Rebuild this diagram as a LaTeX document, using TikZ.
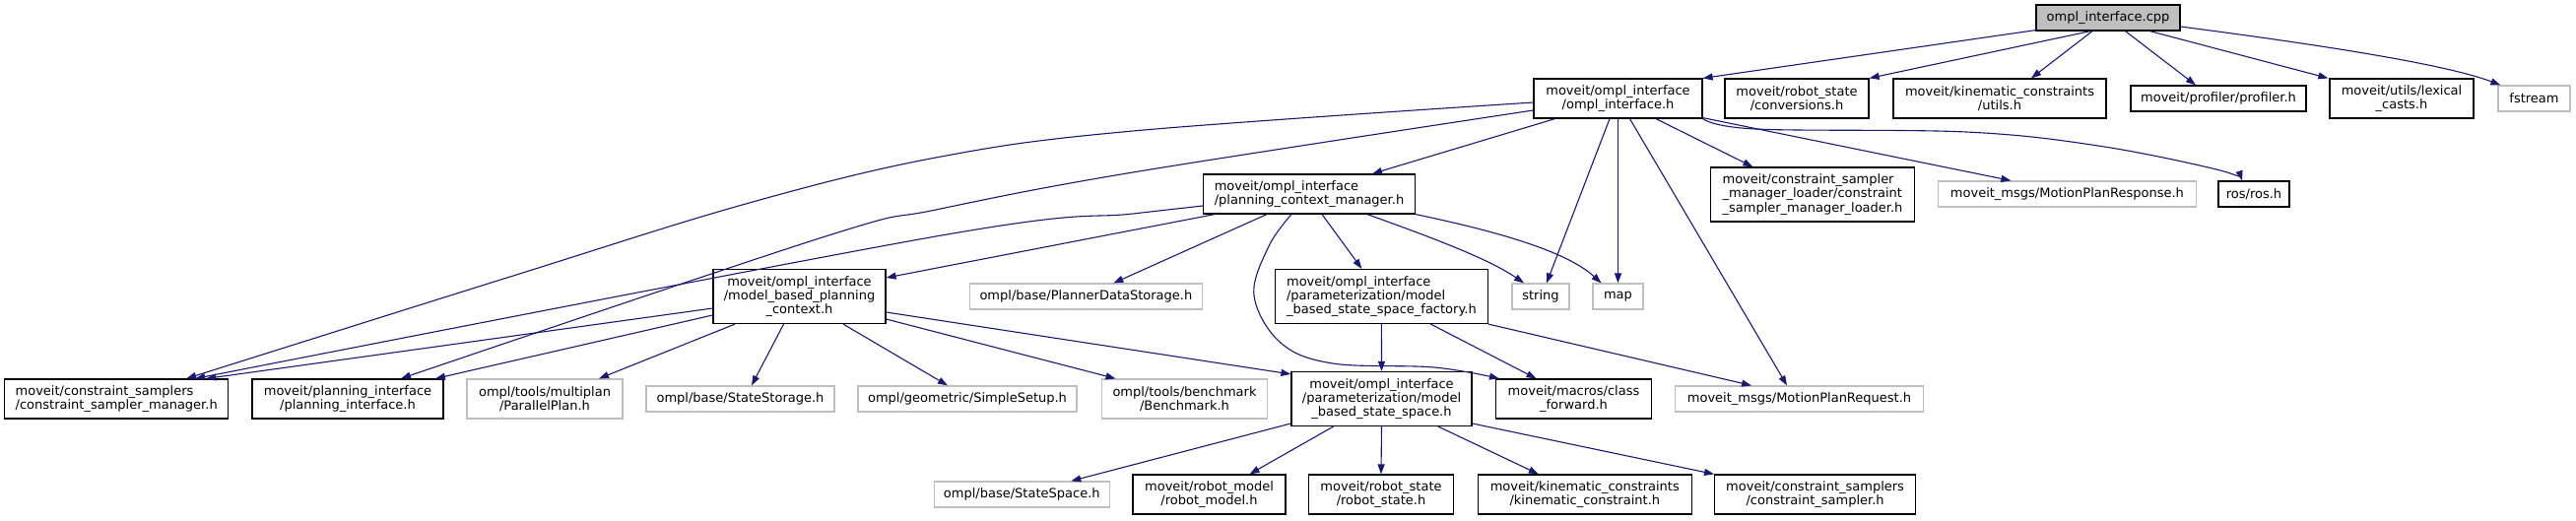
\documentclass[tikz,border=0pt]{standalone}
\usepackage{fontspec}
\newfontfamily\dvs{DejaVu Sans}
\usetikzlibrary{arrows.meta}
\definecolor{extgray}{HTML}{BFBFBF}
\definecolor{edgeblue}{HTML}{191970}
\tikzset{
  box/.style={draw, line width=1.2pt, inner sep=0pt, font={\dvs\fontsize{13}{14.3}\selectfont}},
  doc/.style={box, draw=black},
  ext/.style={box, draw=extgray},
  edge/.style={draw=edgeblue, line width=1.1pt, -{Triangle[length=10pt,width=7pt]}},
}
\begin{document}
\begin{tikzpicture}[x=1pt,y=-1pt]
\useasboundingbox (0,0) rectangle (2615,528);
% row 1
\node[doc, fill=extgray, minimum width=146pt, minimum height=26pt] (cpp) at (2140,18) {ompl\_interface.cpp};
% row 2
\node[doc, minimum width=171pt, minimum height=40pt, align=center] (oih) at (1642.5,100) {moveit/ompl\_interface\\/ompl\_interface.h};
\node[doc, minimum width=146pt, minimum height=40pt, align=center] (conv) at (1824,100) {moveit/robot\_state\\/conversions.h};
\node[doc, minimum width=216pt, minimum height=40pt, align=center] (kcu) at (2030,100) {moveit/kinematic\_constraints\\/utils.h};
\node[doc, minimum width=178pt, minimum height=26pt] (prof) at (2252,100) {moveit/profiler/profiler.h};
\node[doc, minimum width=146pt, minimum height=40pt, align=center] (lex) at (2438,100) {moveit/utils/lexical\\\_casts.h};
\node[ext, minimum width=73pt, minimum height=26pt] (fstream) at (2572.5,100) {fstream};
% row 3
\node[doc, minimum width=215pt, minimum height=40pt, align=left] (pcm) at (1329,197) {moveit/ompl\_interface\\/planning\_context\_manager.h};
\node[doc, minimum width=207pt, minimum height=55pt, align=left] (loader) at (1840,197.5) {moveit/constraint\_sampler\\\_manager\_loader/constraint\\\_sampler\_manager\_loader.h};
\node[ext, minimum width=262pt, minimum height=26pt] (mpresp) at (2098.4,197) {moveit\_msgs/MotionPlanResponse.h};
\node[doc, minimum width=72pt, minimum height=26pt] (ros) at (2288,197) {ros/ros.h};
% row 4
\node[doc, minimum width=175pt, minimum height=55pt, align=center] (mbpc) at (811.5,301) {moveit/ompl\_interface\\/model\_based\_planning\\\_context.h};
\node[ext, minimum width=236pt, minimum height=26pt] (pds) at (1102.4,301) {ompl/base/PlannerDataStorage.h};
\node[doc, minimum width=216pt, minimum height=55pt, align=left] (factory) at (1402.4,301) {moveit/ompl\_interface\\/parameterization/model\\\_based\_state\_space\_factory.h};
\node[ext, minimum width=58pt, minimum height=26pt] (string) at (1564,301) {string};
\node[ext, minimum width=51pt, minimum height=26pt] (map) at (1642.5,301) {map};
% row 5
\node[doc, minimum width=227pt, minimum height=40pt, align=left] (csm) at (118.2,405) {moveit/constraint\_samplers\\/constraint\_sampler\_manager.h};
\node[doc, minimum width=194pt, minimum height=40pt, align=center] (pi) at (353,405) {moveit/planning\_interface\\/planning\_interface.h};
\node[ext, minimum width=158pt, minimum height=40pt, align=center] (pp) at (553,405) {ompl/tools/multiplan\\/ParallelPlan.h};
\node[ext, minimum width=191pt, minimum height=26pt] (ss) at (751.5,405) {ompl/base/StateStorage.h};
\node[ext, minimum width=222pt, minimum height=26pt] (simple) at (982,405) {ompl/geometric/SimpleSetup.h};
\node[ext, minimum width=168pt, minimum height=40pt, align=center] (bench) at (1202.5,405) {ompl/tools/benchmark\\/Benchmark.h};
\node[doc, minimum width=183pt, minimum height=55pt, align=center] (mbss) at (1402.5,405) {moveit/ompl\_interface\\/parameterization/model\\\_based\_state\_space.h};
\node[doc, minimum width=158pt, minimum height=40pt, align=center] (cf) at (1597.5,405) {moveit/macros/class\\\_forward.h};
\node[ext, minimum width=252pt, minimum height=26pt] (mpreq) at (1826.5,405) {moveit\_msgs/MotionPlanRequest.h};
% row 6
\node[ext, minimum width=178pt, minimum height=26pt] (space) at (1037.3,502) {ompl/base/StateSpace.h};
\node[doc, minimum width=155pt, minimum height=40pt, align=center] (rm) at (1227.5,502) {moveit/robot\_model\\/robot\_model.h};
\node[doc, minimum width=147pt, minimum height=40pt, align=center] (rs) at (1402,502) {moveit/robot\_state\\/robot\_state.h};
\node[doc, minimum width=217pt, minimum height=40pt, align=center] (kc) at (1608.8,502) {moveit/kinematic\_constraints\\/kinematic\_constraint.h};
\node[doc, minimum width=204pt, minimum height=40pt, align=center] (cs) at (1842.6,502) {moveit/constraint\_samplers\\/constraint\_sampler.h};
% edges from cpp
\draw[edge] ([yshift=1]cpp.south west) -- (oih.north east);
\draw[edge] ([xshift=-18]cpp.south) -- (conv.north east);
\draw[edge] ([xshift=-16]cpp.south) -- ([xshift=32]kcu.north);
\draw[edge] ([xshift=17.5]cpp.south) -- ([xshift=-23]prof.north);
\draw[edge] ([xshift=42.5]cpp.south) -- ([xshift=-1]lex.north west);
\draw[edge] ([yshift=-9]cpp.east) .. controls (2390,50) and (2490,68) .. ([xshift=3]fstream.north west);
% edges from ompl_interface.h
\draw[edge] plot[smooth, tension=0.6] coordinates {([yshift=-4]oih.west) (1150,133) (950,160) (757,207) (521,280) ([xshift=71]csm.north)};
\draw[edge] plot[smooth, tension=0.6] coordinates {([yshift=-12]oih.west) (1150,175) (950,213) (838,240) ([xshift=54]pi.north)};
\draw[edge] ([xshift=-64]oih.south) -- ([xshift=64]pcm.north);
\draw[edge] ([xshift=-8.5]oih.south) -- ([xshift=6]string.north);
\draw[edge] (oih.south) -- (map.north);
\draw[edge] ([xshift=12]oih.south) -- ([xshift=-12.5]mpreq.north);
\draw[edge] ([xshift=38.5]oih.south) -- ([xshift=-60.6]loader.north);
\draw[edge] ([yshift=1]oih.south east) -- ([xshift=-57]mpresp.north);
\draw[edge] plot[smooth, tension=0.6] coordinates {(oih.south east) (1782,131) (1996,134) (2130,148) (2250,172) ([xshift=-12]ros.north)};
% edges from planning_context_manager.h
\draw[edge] plot[smooth, tension=0.6] coordinates {([yshift=-12]pcm.west) (1150,217) (950,240) ([xshift=80]csm.north)};
\draw[edge] ([xshift=-96]pcm.south) -- ([yshift=19]mbpc.east);
\draw[edge] ([xshift=-43]pcm.south) -- ([xshift=28]pds.north);
\draw[edge] plot[smooth, tension=0.6] coordinates {([xshift=-18]pcm.south) (1288,250) (1273,300) (1300,348) (1353,369) (1456,373) ([xshift=4]cf.north west)};
\draw[edge] ([xshift=13]pcm.south) -- ([xshift=-20]factory.north);
\draw[edge] ([xshift=59]pcm.south) .. controls (1450,240) and (1510,262) .. ([xshift=-17]string.north);
\draw[edge] (pcm.south east) .. controls (1520,235) and (1590,255) .. ([xshift=-17]map.north);
% edges from model_based_planning_context.h
\draw[edge] ([yshift=-12]mbpc.west) -- ([xshift=91]csm.north);
\draw[edge] ([yshift=-19]mbpc.west) -- ([xshift=89]pi.north);
\draw[edge] ([xshift=-65.5]mbpc.south) -- ([xshift=55]pp.north);
\draw[edge] ([xshift=-16]mbpc.south) -- ([xshift=11.5]ss.north);
\draw[edge] ([xshift=44.5]mbpc.south) -- ([xshift=-20]simple.north);
\draw[edge] ([yshift=-23]mbpc.east) -- ([xshift=-70]bench.north);
\draw[edge] ([yshift=-16]mbpc.east) -- ([yshift=-3]mbss.north west);
% edges from factory
\draw[edge] (factory.south) -- (mbss.north);
\draw[edge] ([xshift=50]factory.south) -- ([xshift=-38]cf.north);
\draw[edge] (factory.south east) -- ([xshift=-48.5]mpreq.north);
% edges from model_based_state_space.h
\draw[edge] ([yshift=-25]mbss.west) -- ([xshift=50]space.north);
\draw[edge] ([xshift=-49]mbss.south) -- ([xshift=41]rm.north);
\draw[edge] (mbss.south) -- (rs.north);
\draw[edge] ([xshift=57.5]mbss.south) -- ([xshift=-47]kc.north);
\draw[edge] ([yshift=-25]mbss.east) -- (cs.north west);
\end{tikzpicture}
\end{document}
